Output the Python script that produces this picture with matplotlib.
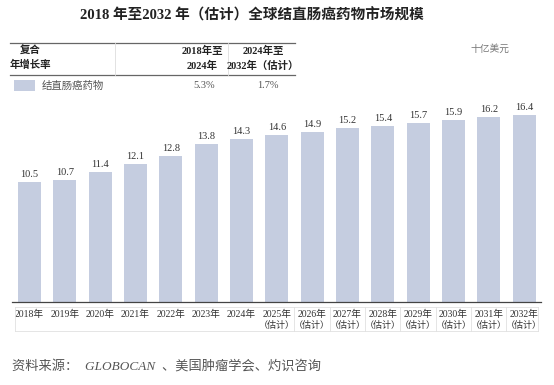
import matplotlib
matplotlib.use("Agg")
import matplotlib.pyplot as plt
from matplotlib.lines import Line2D
from matplotlib.patches import Rectangle
import matplotlib.transforms as mtransforms

years = ["2018年", "2019年", "2020年", "2021年", "2022年", "2023年", "2024年",
         "2025年", "2026年", "2027年", "2028年", "2029年", "2030年", "2031年", "2032年"]
estimated = [False] * 7 + [True] * 8
values = [10.5, 10.7, 11.4, 12.1, 12.8, 13.8, 14.3, 14.6, 14.9, 15.2, 15.4, 15.7, 15.9, 16.2, 16.4]
series_name = "结直肠癌药物"
cagr_headers = [("2018年至", "2024年"), ("2024年至", "2032年（估计）")]
cagr_values = ["5.3%", "1.7%"]

W, H = 554, 385
SERIF = ["Liberation Serif", "Noto Sans CJK SC"]
CJK = ["Noto Sans CJK SC", "DejaVu Sans"]
bar_color = "#c5cde0"

fig = plt.figure(figsize=(W / 100, H / 100), dpi=100)

def fx(px):
    return px / W

def fy(py):
    return 1 - py / H

# Title
fig.text(fx(252), fy(15), "2018 年至2032 年（估计）全球结直肠癌药物市场规模",
         ha="center", va="center", fontsize=10.5, fontweight="bold",
         family=SERIF, color="#222222")

# Header table
fig.add_artist(Line2D([fx(10), fx(295)], [fy(43), fy(43)], color="#666666", lw=0.9))
fig.add_artist(Line2D([fx(10), fx(295)], [fy(74.5), fy(74.5)], color="#666666", lw=0.9))
for xv in (115, 228):
    fig.add_artist(Line2D([fx(xv), fx(xv)], [fy(43), fy(74.5)], color="#dddddd", lw=0.6))
fig.text(fx(20), fy(51), "复合", ha="left", va="center", fontsize=7.5,
         fontweight="bold", family=CJK, color="#222222")
fig.text(fx(10), fy(65), "年增长率", ha="left", va="center", fontsize=7.5,
         fontweight="bold", family=CJK, color="#222222")
for cx, (h1, h2) in zip((202, 263), cagr_headers):
    fig.text(fx(cx), fy(51), h1, ha="center", va="center", fontsize=7.5,
             fontweight="bold", family=SERIF, color="#222222")
    fig.text(fx(cx), fy(66), h2, ha="center", va="center", fontsize=7.5,
             fontweight="bold", family=SERIF, color="#222222")
fig.add_artist(Rectangle((fx(14), fy(91)), fx(35) - fx(14), fy(80) - fy(91),
                         transform=fig.transFigure, facecolor=bar_color, edgecolor="none"))
fig.text(fx(42), fy(86), series_name, ha="left", va="center", fontsize=7.5,
         family=CJK, color="#555555")
for cx, v in zip((204, 268), cagr_values):
    fig.text(fx(cx), fy(86), v, ha="center", va="center", fontsize=7.5,
             family=SERIF, color="#555555")

fig.text(fx(490), fy(49), "十亿美元", ha="center", va="center", fontsize=7,
         family=CJK, color="#777777", style="italic")

# Bar chart axes
ax_left, ax_right, ax_top, ax_bottom = 12, 541, 100, 302
ax = fig.add_axes([fx(ax_left), fy(ax_bottom), fx(ax_right) - fx(ax_left),
                   fy(ax_top) - fy(ax_bottom)])
step = 35.33
x0 = 29.5
ax.set_xlim((ax_left - x0) / step, (ax_right - x0) / step)
ax.set_ylim(0, (ax_bottom - ax_top) / 11.43)
xs = list(range(len(years)))
bars = ax.bar(xs, values, width=0.65, color=bar_color, edgecolor="none")
for xi, v in zip(xs, values):
    ax.text(xi, v + 0.25, f"{v:.1f}", ha="center", va="bottom", fontsize=7.5,
            family=SERIF, color="#333333")
for s in ("top", "right", "left"):
    ax.spines[s].set_visible(False)
ax.spines["bottom"].set_color("#444444")
ax.spines["bottom"].set_linewidth(0.9)
ax.set_xticks([])
ax.set_yticks([])

# Category label table under the axis
trans = mtransforms.blended_transform_factory(ax.transData, fig.transFigure)
fig.add_artist(Line2D([fx(15), fx(538)], [fy(307), fy(307)], color="#e0e0e0", lw=0.6))
fig.add_artist(Line2D([fx(15), fx(538)], [fy(331), fy(331)], color="#e0e0e0", lw=0.6))
fig.add_artist(Line2D([fx(15), fx(15)], [fy(307), fy(331)], color="#e0e0e0", lw=0.6))
fig.add_artist(Line2D([fx(538), fx(538)], [fy(307), fy(331)], color="#e0e0e0", lw=0.6))
for xi in xs[7:-1]:
    ax.add_artist(Line2D([xi + 0.5, xi + 0.5], [fy(307), fy(331)], transform=trans,
                         color="#e0e0e0", lw=0.6, clip_on=False))
for xi, lab, est in zip(xs, years, estimated):
    ax.text(xi, fy(314), lab, transform=trans, ha="center", va="center",
            fontsize=7, family=SERIF, color="#333333", clip_on=False)
    if est:
        ax.text(xi, fy(325), "（估计）", transform=trans, ha="center", va="center",
                fontsize=6.5, family=CJK, color="#333333", clip_on=False)

# Source
fig.text(fx(12), fy(366), "资料来源：  GLOBOCAN  、美国肿瘤学会、灼识咨询", ha="left",
         va="center", fontsize=9.5, family=["Liberation Serif", "Noto Sans CJK SC"],
         style="italic", color="#555555")

fig.savefig("out.png", dpi=100)
